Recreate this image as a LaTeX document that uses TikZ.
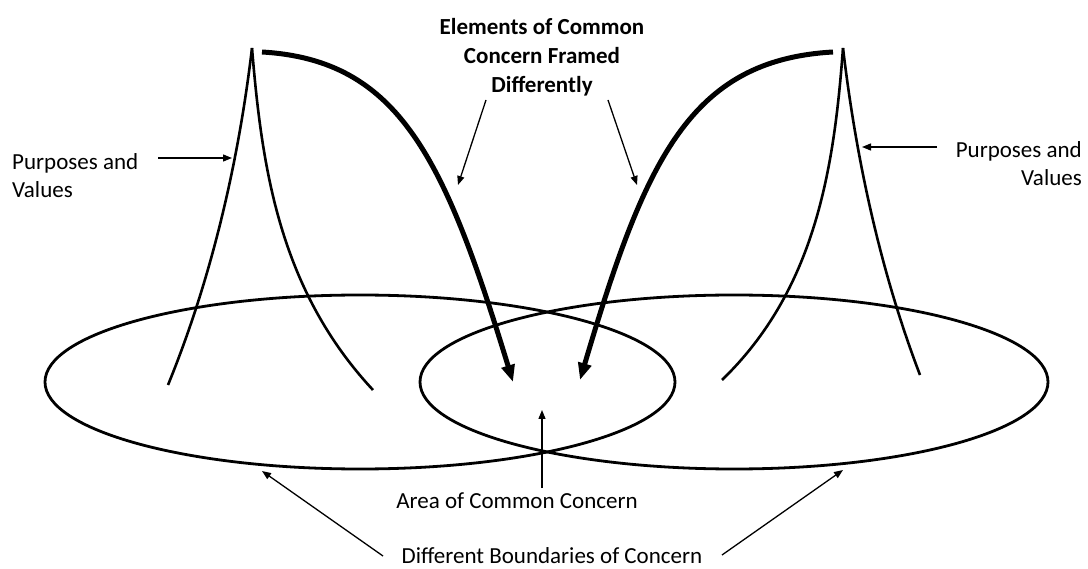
\documentclass[tikz,border=0pt]{standalone}
\usepackage{fontspec}
\setmainfont{Carlito}
\usetikzlibrary{arrows.meta,positioning}

\begin{document}
\begin{tikzpicture}[x=1pt,y=-1pt,
  lbl/.style={font=\fontsize{23}{28}\selectfont, inner sep=0pt},
  boundary/.style={line width=2.8pt},
  leg/.style={line width=2.6pt},
  frame/.style={line width=5pt, -{Triangle[length=17pt,width=13pt]}},
  ptr/.style={line width=1.3pt, -{Triangle[length=9pt,width=7pt]}}
]
  \useasboundingbox (0,0) rectangle (1088,569);

  % boundaries of concern
  \draw[boundary] (360,382) ellipse [x radius=315pt, y radius=87pt];
  \draw[boundary] (734,382) ellipse [x radius=314pt, y radius=87pt];

  % purposes and values
  \coordinate (peakL) at (252,48);
  \coordinate (footLa) at (168,385);
  \coordinate (footLb) at (373,390);
  \coordinate (peakR) at (843,48);
  \coordinate (footRa) at (722,380);
  \coordinate (footRb) at (920,375);
  \draw[leg] (peakL) .. controls (240,150) and (215,270) .. (footLa);
  \draw[leg] (peakL) .. controls (262,170) and (280,290) .. (footLb);
  \draw[leg] (peakR) .. controls (834,170) and (815,290) .. (footRa);
  \draw[leg] (peakR) .. controls (855,150) and (878,265) .. (footRb);

  % elements framed differently
  \coordinate (frameLs) at (262,52);
  \coordinate (frameLe) at (513,382);
  \coordinate (frameRs) at (833,52);
  \coordinate (frameRe) at (580,380);
  \draw[frame] (frameLs) .. controls (400,60) and (445,160) .. (frameLe);
  \draw[frame] (frameRs) .. controls (690,60) and (645,160) .. (frameRe);

  % labels
  \node[lbl, font=\fontsize{23}{29}\selectfont\bfseries, align=center, anchor=north] (elements) at (542,18)
    {Elements of Common\\Concern Framed\\Differently};
  \node[lbl, align=left, anchor=north west] (purposesL) at (12,153) {Purposes and\\Values};
  \node[lbl, align=right, anchor=north east] (purposesR) at (1082,141) {Purposes and\\Values};
  \node[lbl, anchor=base] (area) at (517,508) {Area of Common Concern};
  \node[lbl, anchor=base] (bounds) at (552,563) {Different Boundaries of Concern};

  % pointers
  \coordinate (elemTailL) at (486,100);
  \coordinate (elemHeadL) at (458,185);
  \coordinate (elemTailR) at (608,100);
  \coordinate (elemHeadR) at (637,185);
  \coordinate (purpTailL) at (158,158);
  \coordinate (purpHeadL) at (232,158);
  \coordinate (purpTailR) at (937,147);
  \coordinate (purpHeadR) at (862,147);
  \coordinate (areaTail) at (542,488);
  \coordinate (areaHead) at (542,410);
  \coordinate (boundTailL) at (383,556);
  \coordinate (boundHeadL) at (262,471);
  \coordinate (boundTailR) at (722,555);
  \coordinate (boundHeadR) at (843,470);

  \draw[ptr] (elemTailL) -- (elemHeadL);
  \draw[ptr] (elemTailR) -- (elemHeadR);
  \draw[ptr] (purpTailL) -- (purpHeadL);
  \draw[ptr] (purpTailR) -- (purpHeadR);
  \draw[ptr] (areaTail) -- (areaHead);
  \draw[ptr] (boundTailL) -- (boundHeadL);
  \draw[ptr] (boundTailR) -- (boundHeadR);
\end{tikzpicture}
\end{document}
